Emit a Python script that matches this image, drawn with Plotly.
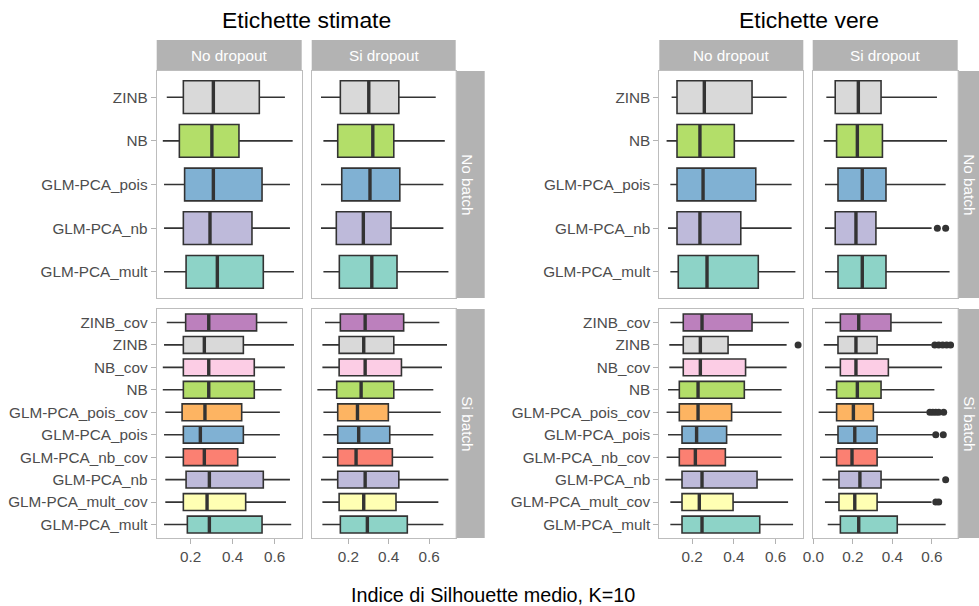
import plotly.graph_objects as go

W, H = 979, 606

# Methods shown in each facet row (bottom to top)
cats_top = ["GLM-PCA_mult", "GLM-PCA_nb", "GLM-PCA_pois", "NB", "ZINB"]
cats_bottom = ["GLM-PCA_mult", "GLM-PCA_mult_cov", "GLM-PCA_nb", "GLM-PCA_nb_cov",
               "GLM-PCA_pois", "GLM-PCA_pois_cov", "NB", "NB_cov", "ZINB", "ZINB_cov"]

col_labels = ["No dropout", "Si dropout"]
row_labels = ["No batch", "Si batch"]
titles = ["Etichette stimate", "Etichette vere"]
x_title = "Indice di Silhouette medio, K=10"

# Box statistics: (lower whisker, Q1, median, Q3, upper whisker), in category order
stim_nodrop_nobatch = [
    (0.073, 0.178, 0.327, 0.546, 0.692),
    (0.073, 0.165, 0.292, 0.492, 0.673),
    (0.073, 0.171, 0.308, 0.540, 0.673),
    (0.067, 0.146, 0.301, 0.430, 0.686),
    (0.086, 0.165, 0.308, 0.527, 0.649),
]
stim_sidrop_nobatch = [
    (0.076, 0.155, 0.316, 0.441, 0.696),
    (0.064, 0.140, 0.274, 0.411, 0.671),
    (0.064, 0.167, 0.307, 0.455, 0.671),
    (0.076, 0.147, 0.321, 0.425, 0.678),
    (0.064, 0.160, 0.301, 0.450, 0.633),
]
stim_nodrop_sibatch = [
    (0.073, 0.184, 0.289, 0.540, 0.679),
    (0.079, 0.165, 0.278, 0.462, 0.654),
    (0.079, 0.178, 0.289, 0.546, 0.673),
    (0.079, 0.165, 0.265, 0.424, 0.606),
    (0.073, 0.165, 0.246, 0.451, 0.625),
    (0.079, 0.159, 0.268, 0.443, 0.625),
    (0.067, 0.165, 0.286, 0.503, 0.633),
    (0.067, 0.165, 0.286, 0.503, 0.649),
    (0.073, 0.165, 0.265, 0.451, 0.692),
    (0.086, 0.176, 0.286, 0.514, 0.660),
]
stim_sidrop_sibatch = [
    (0.071, 0.160, 0.294, 0.492, 0.671),
    (0.071, 0.154, 0.276, 0.436, 0.646),
    (0.064, 0.147, 0.283, 0.450, 0.696),
    (0.071, 0.147, 0.238, 0.418, 0.621),
    (0.076, 0.147, 0.251, 0.405, 0.621),
    (0.076, 0.147, 0.245, 0.398, 0.658),
    (0.046, 0.142, 0.263, 0.425, 0.621),
    (0.071, 0.154, 0.283, 0.463, 0.664),
    (0.071, 0.154, 0.276, 0.425, 0.689),
    (0.084, 0.160, 0.283, 0.474, 0.651),
]
vere_nodrop_nobatch = [
    (0.095, 0.133, 0.271, 0.517, 0.695),
    (0.084, 0.127, 0.237, 0.433, 0.677),
    (0.095, 0.127, 0.252, 0.505, 0.677),
    (0.077, 0.127, 0.237, 0.402, 0.690),
    (0.101, 0.127, 0.258, 0.487, 0.653),
]
vere_sidrop_nobatch = [
    (0.059, 0.125, 0.248, 0.368, 0.690),
    (0.059, 0.111, 0.216, 0.317, 0.599),
    (0.059, 0.125, 0.248, 0.368, 0.670),
    (0.053, 0.118, 0.223, 0.350, 0.677),
    (0.066, 0.111, 0.228, 0.343, 0.626),
]
vere_nodrop_sibatch = [
    (0.095, 0.151, 0.247, 0.524, 0.684),
    (0.095, 0.151, 0.234, 0.396, 0.660),
    (0.071, 0.151, 0.247, 0.511, 0.684),
    (0.077, 0.138, 0.215, 0.359, 0.629),
    (0.084, 0.151, 0.221, 0.365, 0.629),
    (0.077, 0.138, 0.228, 0.389, 0.629),
    (0.084, 0.138, 0.228, 0.450, 0.629),
    (0.090, 0.157, 0.239, 0.456, 0.653),
    (0.090, 0.157, 0.239, 0.372, 0.653),
    (0.095, 0.157, 0.247, 0.487, 0.664),
]
vere_sidrop_sibatch = [
    (0.073, 0.137, 0.230, 0.425, 0.670),
    (0.059, 0.130, 0.210, 0.323, 0.599),
    (0.046, 0.130, 0.236, 0.343, 0.638),
    (0.034, 0.118, 0.196, 0.323, 0.606),
    (0.059, 0.125, 0.210, 0.323, 0.606),
    (0.027, 0.118, 0.203, 0.304, 0.575),
    (0.066, 0.118, 0.223, 0.343, 0.613),
    (0.059, 0.137, 0.216, 0.380, 0.652),
    (0.053, 0.125, 0.216, 0.323, 0.600),
    (0.059, 0.137, 0.230, 0.393, 0.652),
]

# Outlying values per method
vere_sidrop_nobatch_out = {"GLM-PCA_nb": [0.628, 0.670]}
vere_nodrop_sibatch_out = {"ZINB": [0.708]}
vere_sidrop_sibatch_out = {
    "ZINB": [0.615, 0.635, 0.655, 0.675, 0.695],
    "GLM-PCA_pois_cov": [0.59, 0.605, 0.62, 0.635, 0.66],
    "GLM-PCA_pois": [0.620, 0.658],
    "GLM-PCA_nb": [0.670],
    "GLM-PCA_mult_cov": [0.620, 0.635],
}

# RColorBrewer Set3 fill per method
fills = {
    "GLM-PCA_mult": "#8DD3C7", "GLM-PCA_mult_cov": "#FFFFB3",
    "GLM-PCA_nb": "#BEBADA", "GLM-PCA_nb_cov": "#FB8072",
    "GLM-PCA_pois": "#80B1D3", "GLM-PCA_pois_cov": "#FDB462",
    "NB": "#B3DE69", "NB_cov": "#FCCDE5",
    "ZINB": "#D9D9D9", "ZINB_cov": "#BC80BD",
}

FONT = "Liberation Sans, Arial, sans-serif"
EDGE = "#333333"
STRIP = "#B3B3B3"
BORDER = "#BDBDBD"
TICKTXT = "#4D4D4D"
BOX_W = 0.75

# Pixel geometry of the facet panels
col_px = {("stim", 0): (156.7, 301.7), ("stim", 1): (311.7, 455.7),
          ("vere", 0): (659.3, 803.3), ("vere", 1): (812.7, 957.7)}
row_px = {0: (71.0, 298.0), 1: (309.0, 538.0)}
x_ranges = {("stim", 0): [0.038, 0.729], ("stim", 1): [0.018, 0.732],
            ("vere", 0): [0.042, 0.733], ("vere", 1): [-0.003, 0.731]}
strip_top = 40.0
row_strip_w = 29.0
row_label_dx = 11.5


def fx(px):
    return px / W


def fy(py):
    return 1 - py / H


panels = [
    ("stim", 0, 0, stim_nodrop_nobatch, {}),
    ("stim", 1, 0, stim_sidrop_nobatch, {}),
    ("stim", 0, 1, stim_nodrop_sibatch, {}),
    ("stim", 1, 1, stim_sidrop_sibatch, {}),
    ("vere", 0, 0, vere_nodrop_nobatch, {}),
    ("vere", 1, 0, vere_sidrop_nobatch, vere_sidrop_nobatch_out),
    ("vere", 0, 1, vere_nodrop_sibatch, vere_nodrop_sibatch_out),
    ("vere", 1, 1, vere_sidrop_sibatch, vere_sidrop_sibatch_out),
]

fig = go.Figure()
layout_axes = {}

for i, (fig_key, c, r, stats, outs) in enumerate(panels):
    k = i + 1
    xa = "x" if k == 1 else f"x{k}"
    ya = "y" if k == 1 else f"y{k}"
    cats = cats_top if r == 0 else cats_bottom
    pos = list(range(1, len(cats) + 1))

    med_x, med_y = [], []
    for p, cat, st in zip(pos, cats, stats):
        lo, q1, med, q3, hi = st
        fig.add_trace(go.Box(
            y=[p], q1=[q1], median=[med], q3=[q3], lowerfence=[lo], upperfence=[hi],
            orientation="h", width=BOX_W, fillcolor=fills[cat],
            line=dict(color=EDGE, width=1.6), whiskerwidth=0, boxpoints=False,
            xaxis=xa, yaxis=ya, showlegend=False, hoverinfo="skip",
        ))
        med_x += [med, med, None]
        med_y += [p - BOX_W / 2, p + BOX_W / 2, None]
    # thicker median bars on top of the boxes
    fig.add_trace(go.Scatter(x=med_x, y=med_y, mode="lines",
                             line=dict(color=EDGE, width=3.4),
                             xaxis=xa, yaxis=ya, showlegend=False, hoverinfo="skip"))
    ox, oy = [], []
    for cat, vals in outs.items():
        p = pos[cats.index(cat)]
        ox += vals
        oy += [p] * len(vals)
    if ox:
        fig.add_trace(go.Scatter(x=ox, y=oy, mode="markers",
                                 marker=dict(color=EDGE, size=7),
                                 xaxis=xa, yaxis=ya, showlegend=False, hoverinfo="skip"))

    x0, x1 = col_px[(fig_key, c)]
    y0, y1 = row_px[r]
    bottom = r == 1
    layout_axes["xaxis" if k == 1 else f"xaxis{k}"] = dict(
        domain=[fx(x0), fx(x1)], anchor=ya, range=x_ranges[(fig_key, c)],
        automargin=False,
        showgrid=False, zeroline=False, showline=True, mirror=True,
        linecolor=BORDER, linewidth=1,
        ticks="outside" if bottom else "", ticklen=5, tickwidth=1, tickcolor=STRIP,
        showticklabels=bottom, tick0=0, dtick=0.2, tickformat=".1f",
        tickfont=dict(family=FONT, size=15.3, color=TICKTXT),
    )
    layout_axes["yaxis" if k == 1 else f"yaxis{k}"] = dict(
        domain=[fy(y1), fy(y0)], anchor=xa, range=[0.4, len(cats) + 0.6],
        automargin=False,
        showgrid=False, zeroline=False, showline=True, mirror=True,
        linecolor=BORDER, linewidth=1,
        tickmode="array", tickvals=pos, ticktext=cats,
        ticks="outside" if c == 0 else "", ticklen=5, tickwidth=1, tickcolor=STRIP,
        showticklabels=(c == 0),
        tickfont=dict(family=FONT, size=15.3, color=TICKTXT),
    )

shapes = []
annotations = []
for fi, fig_key in enumerate(["stim", "vere"]):
    # column strips
    for c in range(2):
        x0, x1 = col_px[(fig_key, c)]
        shapes.append(dict(type="rect", xref="paper", yref="paper",
                           x0=fx(x0), x1=fx(x1), y0=fy(row_px[0][0]), y1=fy(strip_top),
                           fillcolor=STRIP, line=dict(width=0), layer="below"))
        annotations.append(dict(text=col_labels[c], xref="paper", yref="paper",
                                x=fx((x0 + x1) / 2), y=fy((strip_top + row_px[0][0]) / 2),
                                showarrow=False, xanchor="center", yanchor="middle",
                                font=dict(family=FONT, size=15.3, color="white")))
    # row strips
    rx0 = col_px[(fig_key, 1)][1]
    for r in range(2):
        y0, y1 = row_px[r]
        shapes.append(dict(type="rect", xref="paper", yref="paper",
                           x0=fx(rx0), x1=fx(rx0 + row_strip_w), y0=fy(y1), y1=fy(y0),
                           fillcolor=STRIP, line=dict(width=0), layer="below"))
        annotations.append(dict(text=row_labels[r], xref="paper", yref="paper",
                                x=fx(rx0 + row_label_dx), y=fy((y0 + y1) / 2),
                                showarrow=False, textangle=90,
                                xanchor="center", yanchor="middle",
                                font=dict(family=FONT, size=15.3, color="white")))
    # plot title centred over the panel columns
    tx = (col_px[(fig_key, 0)][0] + col_px[(fig_key, 1)][1]) / 2
    annotations.append(dict(text=titles[fi], xref="paper", yref="paper",
                            x=fx(tx), y=fy(20), showarrow=False,
                            xanchor="center", yanchor="middle",
                            font=dict(family=FONT, size=22.9, color="black")))

annotations.append(dict(text=x_title, xref="paper", yref="paper",
                        x=fx(493), y=fy(595), showarrow=False,
                        xanchor="center", yanchor="middle",
                        font=dict(family=FONT, size=19.8, color="black")))

fig.update_layout(
    template="none",
    width=W, height=H, autosize=False,
    margin=dict(l=0, r=0, t=0, b=0, pad=0, autoexpand=False),
    paper_bgcolor="white", plot_bgcolor="white",
    boxmode="overlay", showlegend=False,
    shapes=shapes, annotations=annotations,
    font=dict(family=FONT),
    **layout_axes,
)

fig.write_html("out.html")
